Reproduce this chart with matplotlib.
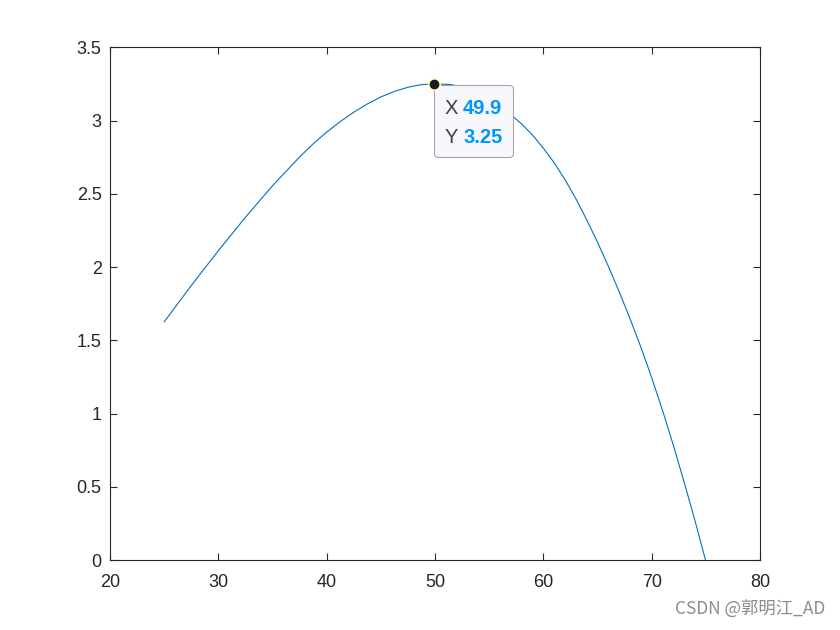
import matplotlib
matplotlib.use("Agg")
import matplotlib.pyplot as plt
from matplotlib.offsetbox import TextArea, HPacker, VPacker, DrawingArea, AnnotationBbox

plt.rcParams["font.family"] = ["Liberation Sans", "DejaVu Sans"]

# curve
x_vals = [25.0, 27.5, 30.0, 32.5, 35.0, 37.5, 38.75, 40.0, 41.25, 42.5,
          43.75, 45.0, 46.25, 47.5, 48.75, 49.9, 51.5, 53.0, 54.5, 56.0,
          57.0, 58.0, 59.0, 60.0, 61.0, 62.0, 63.0, 64.0, 65.0, 66.0,
          67.0, 68.0, 69.0, 70.0, 71.0, 72.0, 73.0, 74.0, 74.95]
y_vals = [1.626, 1.874, 2.112, 2.34, 2.555, 2.752, 2.841, 2.921, 2.993, 3.057,
          3.113, 3.161, 3.199, 3.227, 3.245, 3.25, 3.245, 3.22, 3.17, 3.10,
          3.04, 2.975, 2.90, 2.81, 2.71, 2.595, 2.465, 2.321, 2.167, 2.003,
          1.829, 1.645, 1.451, 1.242, 1.018, 0.78, 0.527, 0.264, 0.0]

tip_x = 49.9
tip_y = 3.25

x_ticks = [20, 30, 40, 50, 60, 70, 80]
y_ticks = [0, 0.5, 1, 1.5, 2, 2.5, 3, 3.5]
y_labels = ["0", "0.5", "1", "1.5", "2", "2.5", "3", "3.5"]

fig = plt.figure(figsize=(8.4, 6.3), dpi=100)
ax = fig.add_axes([0.131, 0.111, 0.774, 0.814])

ax.plot(x_vals, y_vals, color="#0072BD", lw=0.8, zorder=2)

ax.set_xlim(20, 80)
ax.set_ylim(0, 3.5)
ax.set_xticks(x_ticks)
ax.set_yticks(y_ticks)
ax.set_yticklabels(y_labels)
ax.tick_params(direction="in", length=5, width=0.8, colors="#262626",
               labelsize=13, top=True, right=True)
ax.tick_params(axis="x", pad=10)
ax.tick_params(axis="y", pad=6)
for s in ax.spines.values():
    s.set_color("#262626")
    s.set_linewidth(0.8)

# datatip marker
ax.plot([tip_x], [tip_y], "o", ms=9.5, mfc="#fffbc8", mec="none", zorder=5, clip_on=False)
ax.plot([tip_x], [tip_y], "o", ms=6, mfc="#1a1a1a", mec="#1a1a1a", zorder=6, clip_on=False)

def row(label, val):
    a = TextArea(label, textprops=dict(color="#404040", fontsize=14.5))
    b = TextArea(val, textprops=dict(color="#0095FF", fontsize=14.5, fontweight="bold"))
    return HPacker(children=[a, b], align="baseline", pad=0, sep=4)

rows = VPacker(children=[row("X", f"{tip_x:.1f}"), row("Y", f"{tip_y:.2f}")],
               align="left", pad=0, sep=7)
tip = VPacker(children=[DrawingArea(1, 3), rows], align="left", pad=0, sep=0)
ab = AnnotationBbox(tip, (tip_x, tip_y), xybox=(7.3, -8.0), boxcoords="offset points",
                    box_alignment=(0, 1), frameon=True,
                    bboxprops=dict(boxstyle="round,pad=0.75,rounding_size=0.3",
                                   fc="#f8f8fc", ec="#a6a6a6", lw=0.8))
ab.set_zorder(4)
ax.add_artist(ab)

fig.text(0.982, 0.032, "CSDN @郭明江_AD", ha="right", va="center", fontsize=12.5,
         color="#8c8c8c", family=["Noto Sans CJK SC", "DejaVu Sans"])

fig.savefig("out.png", dpi=100, facecolor="white")
